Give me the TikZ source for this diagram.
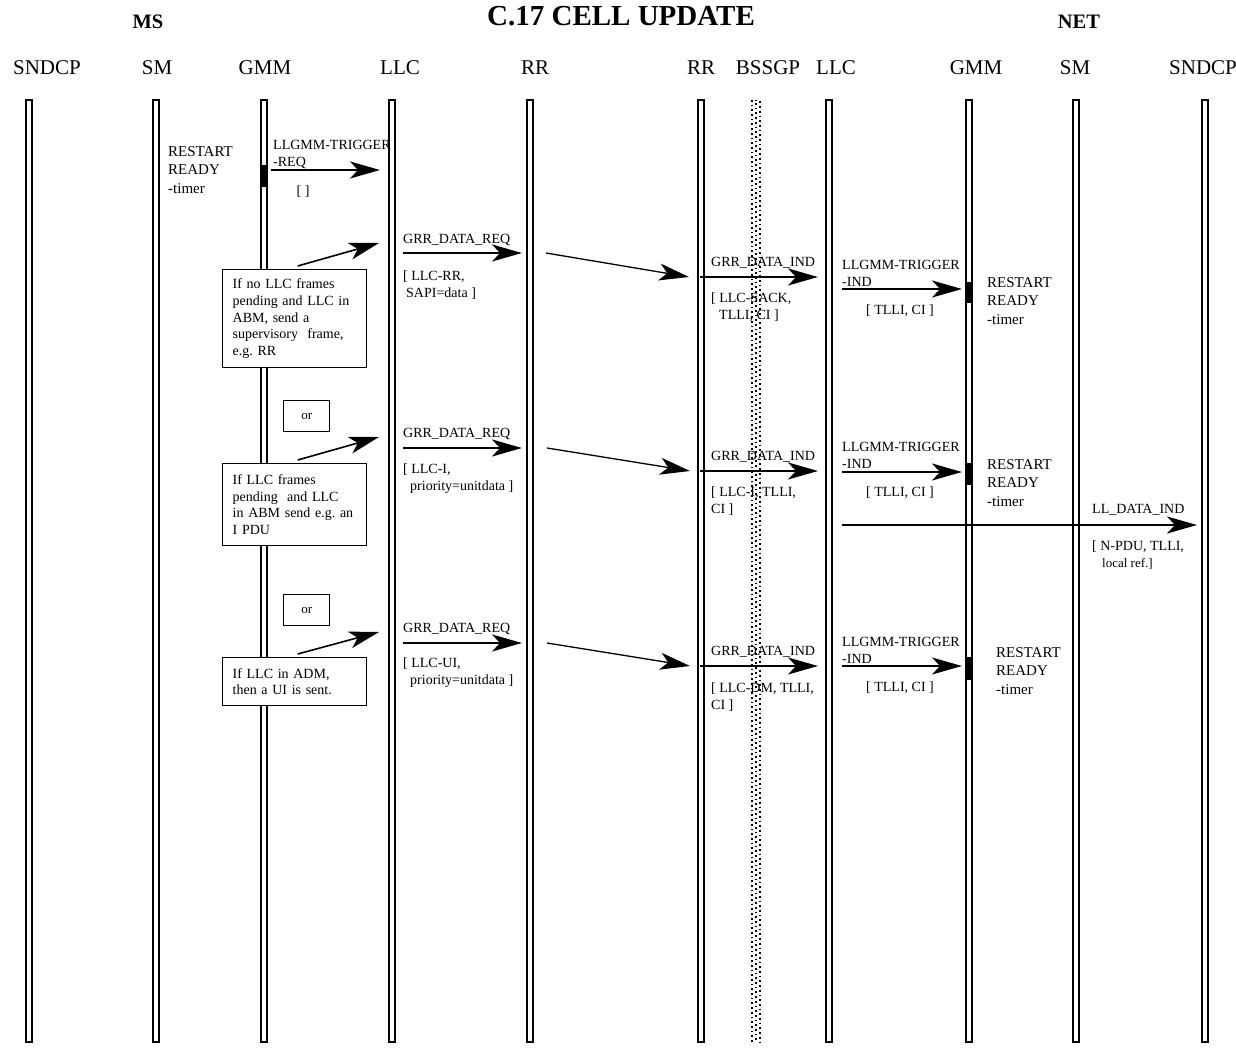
\documentclass[tikz,border=0pt]{standalone}
\usepackage{fontspec}
\setmainfont{Liberation Serif}
\usetikzlibrary{arrows.meta,calc}

\begin{document}
\begin{tikzpicture}[
    x=1pt, y=-1pt,
    >={Stealth[length=30pt,width=17pt,inset=8pt]},
    life line/.style={draw, line width=1.5pt, fill=white, minimum width=6pt, minimum height=942pt, inner sep=0pt},
    act bar/.style={fill=black, minimum width=7.5pt, inner sep=0pt},
    msg arrow/.style={->, line width=1.6pt},
    hop arrow/.style={->, line width=1.3pt},
    bssgp dots/.style={line width=1.7pt, dash pattern=on 1.7pt off 3pt},
    note box/.style={draw, line width=1.4pt, fill=white, anchor=north west, text width=124pt,
        inner xsep=10pt, inner ysep=0pt, align=left, font=\fontsize{14}{16.7}\selectfont\frenchspacing},
    or box/.style={draw, line width=1.4pt, fill=white, anchor=north west, minimum width=46pt,
        minimum height=31pt, font=\fontsize{13}{15}\selectfont},
    layer name/.style={font=\fontsize{21}{24}\selectfont},
    side name/.style={font=\bfseries\fontsize{20.5}{24}\selectfont},
    msg label/.style={anchor=west, inner sep=0pt, align=left, font=\fontsize{14}{17}\selectfont},
    timer label/.style={anchor=west, inner sep=0pt, align=left, font=\fontsize{15}{18.7}\selectfont},
]
\useasboundingbox (0,0) rectangle (1236,1048);

% Headings
\node[side name] (msSide) at (148,22) {MS};
\node[font=\bfseries\fontsize{29}{32}\selectfont] (title) at (621,16) {C.17 CELL UPDATE};
\node[side name] (netSide) at (1079,22) {NET};

% Layer names
\node[layer name] (hSndcpA) at (47,68) {SNDCP};
\node[layer name] (hSmA) at (157,68) {SM};
\node[layer name] (hGmmA) at (265,68) {GMM};
\node[layer name] (hLlcA) at (400,68) {LLC};
\node[layer name] (hRrA) at (535,68) {RR};
\node[layer name] (hRrB) at (701,68) {RR};
\node[layer name] (hBssgp) at (768,68) {BSSGP};
\node[layer name] (hLlcB) at (836,68) {LLC};
\node[layer name] (hGmmB) at (976,68) {GMM};
\node[layer name] (hSmB) at (1075,68) {SM};
\node[layer name] (hSndcpB) at (1203,68) {SNDCP};

% Lifelines
\node[life line] (msSndcp) at (29,571) {};
\node[life line] (msSm) at (156,571) {};
\node[life line] (msGmm) at (264,571) {};
\node[life line] (msLlc) at (392,571) {};
\node[life line] (msRr) at (530,571) {};
\node[life line] (netRr) at (701,571) {};
\node[life line] (netLlc) at (829,571) {};
\node[life line] (netGmm) at (969,571) {};
\node[life line] (netSm) at (1076,571) {};
\node[life line] (netSndcp) at (1205,571) {};

% BSSGP boundary
\draw[bssgp dots] (752,100) -- (752,1042);
\draw[bssgp dots, dash phase=1.6pt] (756,100) -- (756,1042);
\draw[bssgp dots, dash phase=3.2pt] (760,100) -- (760,1042);

% Activity marks on GMM
\node[act bar, minimum height=22pt] (barMs) at (264,176) {};
\node[act bar, minimum height=21pt] (barNetA) at (969,292.5) {};
\node[act bar, minimum height=22pt] (barNetB) at (969,474) {};
\node[act bar, minimum height=23pt] (barNetC) at (969,668.5) {};

% Trigger request in the MS
\coordinate (trigReqS) at (271,170);
\coordinate (trigReqE) at (380,170);
\draw[msg arrow] (trigReqS) -- (trigReqE);
\node[msg label] (trigReqLbl) at (273,155) {LLGMM-TRIGGER\\-REQ};
\node[msg label, anchor=center] (trigReqPar) at (303,192) {[ ]};
\node[timer label] (timerMs) at (168,170) {RESTART\\READY\\-timer};

% Case 1: supervisory frame
\node[note box, minimum height=98pt] (noteAbm) at (222,269)
    {If no LLC frames\\pending and LLC in\\ABM, send a\\supervisory~ frame,\\e.g. RR};
\coordinate (reqTipA) at (379,243);
\draw[msg arrow] ([shift={(3,-3)}]noteAbm.north) -- (reqTipA);
\coordinate (reqAS) at (403,253);
\coordinate (reqAE) at (522,253);
\draw[msg arrow] (reqAS) -- (reqAE);
\node[msg label] (reqALbl) at (403,240) {GRR\_DATA\_REQ};
\node[msg label] (reqAPar) at (403,285) {[ LLC-RR,\\\hspace*{3pt}SAPI=data ]};
\coordinate (hopAS) at (546,253);
\coordinate (hopAE) at (689,277);
\draw[hop arrow] (hopAS) -- (hopAE);
\coordinate (indAS) at (700,277);
\coordinate (indAE) at (818,277);
\draw[msg arrow] (indAS) -- (indAE);
\node[msg label] (indALbl) at (711,263) {GRR\_DATA\_IND};
\node[msg label] (indAPar) at (711,307.5) {[ LLC-SACK,\\\hspace*{8pt}TLLI, CI ]};
\coordinate (trigAS) at (842,289);
\coordinate (trigAE) at (962,289);
\draw[msg arrow] (trigAS) -- (trigAE);
\node[msg label] (trigALbl) at (842,273) {LLGMM-TRIGGER\\-IND};
\node[msg label, anchor=center] (trigAPar) at (900,311) {[ TLLI, CI ]};
\node[timer label] (timerA) at (987,301) {RESTART\\READY\\-timer};

% Case 2: I frame
\node[or box] (orA) at (283,400) {or};
\node[note box, minimum height=82pt] (noteIpdu) at (222,463)
    {If LLC frames\\pending~ and LLC\\in ABM send e.g. an\\I PDU};
\coordinate (reqTipB) at (379,437);
\draw[msg arrow] ([shift={(3,-3)}]noteIpdu.north) -- (reqTipB);
\coordinate (reqBS) at (403,448);
\coordinate (reqBE) at (522,448);
\draw[msg arrow] (reqBS) -- (reqBE);
\node[msg label] (reqBLbl) at (403,434) {GRR\_DATA\_REQ};
\node[msg label] (reqBPar) at (403,478.5) {[ LLC-I,\\\hspace*{7pt}priority=unitdata ]};
\coordinate (hopBS) at (547,448);
\coordinate (hopBE) at (690,471);
\draw[hop arrow] (hopBS) -- (hopBE);
\coordinate (indBS) at (700,471);
\coordinate (indBE) at (818,471);
\draw[msg arrow] (indBS) -- (indBE);
\node[msg label] (indBLbl) at (711,457) {GRR\_DATA\_IND};
\node[msg label] (indBPar) at (711,501.5) {[ LLC-I, TLLI,\\CI ]};
\coordinate (trigBS) at (842,472);
\coordinate (trigBE) at (962,472);
\draw[msg arrow] (trigBS) -- (trigBE);
\node[msg label] (trigBLbl) at (842,455) {LLGMM-TRIGGER\\-IND};
\node[msg label, anchor=center] (trigBPar) at (900,493) {[ TLLI, CI ]};
\node[timer label] (timerB) at (987,483) {RESTART\\READY\\-timer};
\coordinate (dataS) at (842,525);
\coordinate (dataE) at (1197,525);
\draw[msg arrow] (dataS) -- (dataE);
\node[msg label] (dataLbl) at (1092,510) {LL\_DATA\_IND};
\node[msg label] (dataPar) at (1092,555)
    {[ N-PDU, TLLI,\\\hspace*{10pt}{\fontsize{13}{17}\selectfont local ref.]}};

% Case 3: UI frame
\node[or box] (orB) at (283,594) {or};
\node[note box, minimum height=48pt] (noteAdm) at (222,657)
    {If LLC in ADM,\\then a UI is sent.};
\coordinate (reqTipC) at (379,632);
\draw[msg arrow] ([shift={(3,-3)}]noteAdm.north) -- (reqTipC);
\coordinate (reqCS) at (403,643);
\coordinate (reqCE) at (522,643);
\draw[msg arrow] (reqCS) -- (reqCE);
\node[msg label] (reqCLbl) at (403,629) {GRR\_DATA\_REQ};
\node[msg label] (reqCPar) at (403,672.5) {[ LLC-UI,\\\hspace*{7pt}priority=unitdata ]};
\coordinate (hopCS) at (547,643);
\coordinate (hopCE) at (690,666);
\draw[hop arrow] (hopCS) -- (hopCE);
\coordinate (indCS) at (700,666);
\coordinate (indCE) at (818,666);
\draw[msg arrow] (indCS) -- (indCE);
\node[msg label] (indCLbl) at (711,652) {GRR\_DATA\_IND};
\node[msg label] (indCPar) at (711,697) {[ LLC-DM, TLLI,\\CI ]};
\coordinate (trigCS) at (842,666);
\coordinate (trigCE) at (962,666);
\draw[msg arrow] (trigCS) -- (trigCE);
\node[msg label] (trigCLbl) at (842,650) {LLGMM-TRIGGER\\-IND};
\node[msg label, anchor=center] (trigCPar) at (900,688) {[ TLLI, CI ]};
\node[timer label] (timerC) at (996,671) {RESTART\\READY\\-timer};

\end{tikzpicture}
\end{document}
